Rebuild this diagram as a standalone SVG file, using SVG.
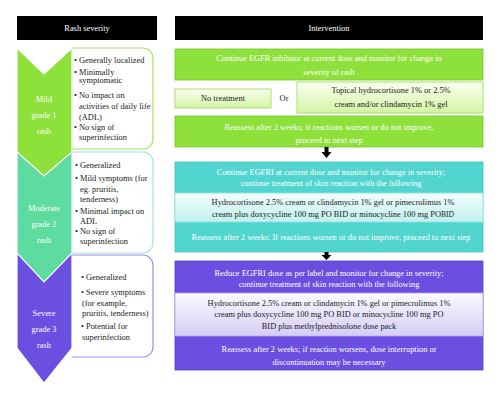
<svg xmlns="http://www.w3.org/2000/svg" width="500" height="401" viewBox="0 0 500 401">
<defs>
<linearGradient id="gGreen" x1="0" y1="0" x2="0" y2="1"><stop offset="0" stop-color="#fbfff3"/><stop offset="1" stop-color="#d3f4a3"/></linearGradient>
<linearGradient id="gTeal" x1="0" y1="0" x2="0" y2="1"><stop offset="0" stop-color="#f5fffe"/><stop offset="1" stop-color="#bff0ed"/></linearGradient>
<linearGradient id="gPurple" x1="0" y1="0" x2="0" y2="1"><stop offset="0" stop-color="#fbfaff"/><stop offset="1" stop-color="#d6ccf5"/></linearGradient>
</defs>
<style>
text{font-family:"Liberation Serif","Times New Roman",serif;font-size:8.4px}
.w{fill:#ffffff}
.k{fill:#1a1a1a}
.c{text-anchor:middle}
.hdr{fill:#000000}
.chev{stroke:#ffffff;stroke-width:1.2}
.green{fill:#8ee03b}
.mint{fill:#5edba0}
.teal{fill:#52d5cf}
.purple{fill:#6b4fe0}
.gbox{fill:#8ee03b;stroke:#79c82a;stroke-width:0.8}
.lgbox{fill:url(#gGreen);stroke:#a9e06a;stroke-width:1}
</style>
<rect width="500" height="401" fill="#ffffff"/>

<g id="header-rash">
<rect class="hdr" x="17" y="16" width="140" height="24"/>
<text class="w c" x="87" y="31">Rash severity</text>
</g>
<g id="header-intervention">
<rect class="hdr" x="175" y="16" width="308" height="24"/>
<text class="w c" x="329" y="30.5">Intervention</text>
</g>

<g id="grade3">
<polygon class="chev purple" points="17,253 72,253 72,348 44,383 17,348"/>
<path d="M72,255 H143 A10,10 0 0 1 153,265 V347 A10,10 0 0 1 143,357 H72" fill="#ffffff" stroke="#9e8ee8" stroke-width="1.2"/>
<text class="w c" x="44" y="316">Severe</text>
<text class="w c" x="44" y="332">grade 3</text>
<text class="w c" x="44" y="348">rash</text>
<text class="k" x="81" y="280">•</text><text class="k" x="86" y="280">Generalized</text>
<text class="k" x="81" y="295">•</text><text class="k" x="86" y="295">Severe symptoms</text>
<text class="k" x="82" y="306">(for example,</text>
<text class="k" x="82" y="316">pruritis, tenderness)</text>
<text class="k" x="81" y="329">•</text><text class="k" x="86" y="329">Potential for</text>
<text class="k" x="82" y="340">superinfection</text>
</g>

<g id="grade2">
<polygon class="chev mint" points="17,152 72,152 72,253 44,282 17,253"/>
<path d="M72,152 H143 A10,10 0 0 1 153,162 V243 A10,10 0 0 1 143,253 H72" fill="#ffffff" stroke="#a6e8c9" stroke-width="1.2"/>
<text class="w c" x="44" y="211">Moderate</text>
<text class="w c" x="44" y="227">grade 2</text>
<text class="w c" x="44" y="243">rash</text>
<text class="k" x="75" y="168">•</text><text class="k" x="80" y="168">Generalized</text>
<text class="k" x="75" y="181">•</text><text class="k" x="80" y="181">Mild symptoms (for</text>
<text class="k" x="80" y="192">eg. pruritis,</text>
<text class="k" x="80" y="202">tenderness)</text>
<text class="k" x="75" y="214">•</text><text class="k" x="80" y="214">Minimal impact on</text>
<text class="k" x="80" y="224">ADL</text>
<text class="k" x="75" y="234">•</text><text class="k" x="80" y="234">No sign of</text>
<text class="k" x="80" y="244">superinfection</text>
</g>

<g id="grade1">
<polygon class="chev green" points="17,48 44,74 72,48 72,152 44,176 17,152"/>
<path d="M72,48 H143 A10,10 0 0 1 153,58 V139 A10,10 0 0 1 143,149 H72" fill="#ffffff" stroke="#a6e35f" stroke-width="1.2"/>
<text class="w c" x="44" y="102">Mild</text>
<text class="w c" x="44" y="118">grade 1</text>
<text class="w c" x="44" y="134">rash</text>
<text class="k" x="74" y="63">•</text><text class="k" x="79" y="63">Generally localized</text>
<text class="k" x="74" y="75">•</text><text class="k" x="79" y="75">Minimally</text>
<text class="k" x="79" y="83">symptomatic</text>
<text class="k" x="74" y="98">•</text><text class="k" x="79" y="98">No impact on</text>
<text class="k" x="79" y="109">activities of daily life</text>
<text class="k" x="79" y="120">(ADL)</text>
<text class="k" x="74" y="130">•</text><text class="k" x="79" y="130">No sign of</text>
<text class="k" x="79" y="140">superinfection</text>
</g>

<g id="mild-continue">
<rect class="gbox" x="175" y="49" width="308" height="31"/>
<text class="w c" x="329" y="61">Continue EGFR inhibitor at current dose and monitor for change in</text>
<text class="w c" x="329" y="74.5">severity of rash</text>
</g>
<g id="mild-no-treatment">
<rect class="lgbox" x="175" y="89" width="96" height="19"/>
<text class="k c" x="223" y="101">No treatment</text>
</g>
<g id="or-label">
<text class="k c" x="284" y="101">Or</text>
</g>
<g id="mild-topical">
<rect class="lgbox" x="297" y="82" width="186" height="31"/>
<text class="k c" x="391" y="93">Topical hydrocortisone 1% or 2.5%</text>
<text class="k c" x="391" y="107">cream and/or clindamycin 1% gel</text>
</g>
<g id="mild-reassess">
<rect class="gbox" x="175" y="116" width="308" height="31"/>
<text class="w c" x="329" y="130">Reassess after 2 weeks; if reactions worsen or do not improve,</text>
<text class="w c" x="329" y="142.5">proceed to next step</text>
</g>

<g id="moderate-block">
<rect class="teal" x="175" y="162" width="308" height="90" stroke="#44c4be" stroke-width="0.8"/>
<text class="w c" x="331" y="175">Continue EGFRI at current dose and monitor for change in severity;</text>
<text class="w c" x="331" y="186">continue treatment of skin reaction with the following</text>
<rect x="175" y="193" width="308" height="29" fill="url(#gTeal)" stroke="#8fe3df" stroke-width="0.8"/>
<text class="k c" x="333" y="205">Hydrocortisone 2.5% cream or clindamycin 1% gel or pimecrolimus 1%</text>
<text class="k c" x="333" y="217">cream plus doxycycline 100 mg PO BID or minocycline 100 mg PO<tspan font-size="7.6">BID</tspan></text>
<text class="w c" x="331" y="240">Reassess after 2 weeks; If reactions worsen or do not improve, proceed to next step</text>
</g>

<g id="severe-block">
<rect class="purple" x="175" y="261" width="308" height="109" stroke="#5a3fd0" stroke-width="0.8"/>
<text class="w c" x="329" y="276">Reduce EGFRI dose as per label and monitor for change in severity;</text>
<text class="w c" x="329" y="287">continue treatment of skin reaction with the following</text>
<rect x="175" y="293" width="308" height="43" fill="url(#gPurple)" stroke="#b6a8ee" stroke-width="0.8"/>
<text class="k c" x="329" y="306">Hydrocortisone 2.5% cream or clindamycin 1% gel or pimecrolimus 1%</text>
<text class="k c" x="329" y="317">cream plus doxycycline 100 mg PO BID or minocycline 100 mg PO</text>
<text class="k c" x="329" y="329">BID plus methylprednisolone dose pack</text>
<text class="w c" x="329" y="352">Reassess after 2 weeks; if reaction worsens, dose interruption or</text>
<text class="w c" x="329" y="365">discontinuation may be necessary</text>
</g>

<g id="connectors">
<polygon points="324.5,147 328.5,147 328.5,152 331.5,152 326.5,158 321.5,152 324.5,152" fill="#000000"/>
<polygon points="324.5,252 328.5,252 328.5,255 331.5,255 326.5,260 321.5,255 324.5,255" fill="#000000"/>
</g>
</svg>
